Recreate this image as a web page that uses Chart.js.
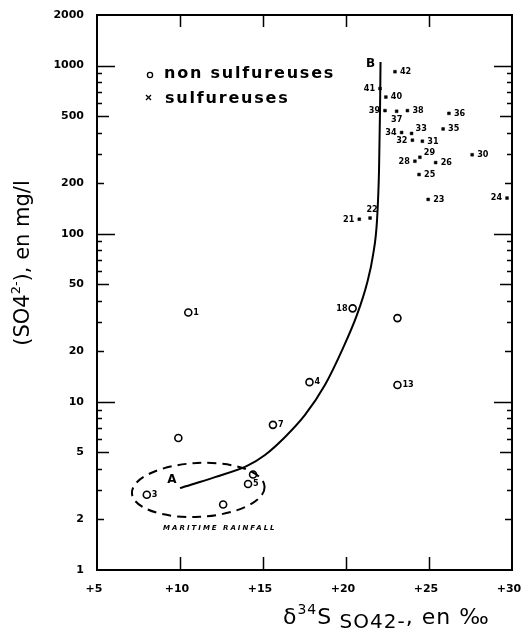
<!DOCTYPE html>
<html><head><meta charset="utf-8">
<script src="https://cdn.jsdelivr.net/npm/chart.js@4.4.1/dist/chart.umd.min.js"></script>
<style>html,body{margin:0;padding:0;background:#fff}#wrap{width:522px;height:630px;position:relative}canvas{display:block}</style>
</head><body><div id="wrap"><canvas id="c" width="522" height="630"></canvas></div>
<script>
// ---- data ----
const nonSulfX = [10.5, 20.4, 23.1, 23.1, 17.8, 15.6, 9.9, 8.0, 12.6, 14.1, 14.4];
const nonSulfY = [34, 36, 31.5, 12.6, 13.1, 7.3, 6.1, 2.8, 2.45, 3.25, 3.7];
const nonSulfLabels = ['1', '18', '', '13', '4', '7', '', '3', '', '5', ''];

const sulfX = [20.8, 21.45, 24.95, 29.7, 24.4, 25.4, 24.15, 24.45, 27.6, 24.6, 24.0, 23.95, 23.35, 25.85, 26.2, 23.05, 23.7, 22.35, 22.4, 22.05, 22.95];
const sulfY = [122, 124, 160, 163, 225, 265, 270, 285, 295, 355, 360, 395, 400, 420, 520, 535, 540, 540, 650, 730, 920];
const sulfLabels = ['21', '22', '23', '24', '25', '26', '28', '29', '30', '31', '32', '33', '34', '35', '36', '37', '38', '39', '40', '41', '42'];

const curveX = [10.0, 12.11, 14.04, 15.12, 16.33, 17.53, 18.73, 19.82, 20.66, 21.27, 21.63, 21.87, 21.99, 22.05, 22.08];
const curveY = [3.07, 3.57, 4.16, 4.83, 6.18, 8.36, 12.6, 20.9, 32.9, 51, 74.8, 121, 240, 545, 1050];

const xTickValues = [5, 10, 15, 20, 25, 30];
const yTickValues = [1, 2, 5, 10, 20, 50, 100, 200, 500, 1000, 2000];
const yLongTicks = [10, 100, 1000];
const yMidTicks = [5, 50, 500];
const yShortTicks = [2, 20, 200];
const yMinorTicks = [3, 4, 6, 7, 8, 9, 30, 40, 60, 70, 80, 90, 300, 400, 600, 700, 800, 900];
const xInnerTicks = [10, 15, 20, 25];

// ---- label placement (style, kept apart from data) ----
const nonSulfLabelSide = ['r', 'l', 'r', 'r', 'r', 'r', 'r', 'r', 'r', 'r', 'r'];
const sulfLabelSide = ['l', 't', 'r', 'l', 'r', 'r', 'l', 'tr', 'r', 'r', 'l', 'tr', 'l', 'r', 'r', 'b', 'r', 'l', 'r', 'l', 'r'];
const rainfallZone = { xMin: 7.1, xMax: 15.1, yMin: 2.07, yMax: 4.33, textX: 12.4, textY: 1.78 };

const pts = (xs, ys) => xs.map((x, i) => ({ x: x, y: ys[i] }));

const FONT = "'DejaVu Sans', sans-serif";
const FONTC = "'DejaVu Sans Condensed', 'DejaVu Sans', sans-serif";

const decor = {
  id: 'decor',
  afterDatasetsDraw(chart) {
    const { ctx, chartArea: a, scales: { x, y } } = chart;
    ctx.save();
    ctx.strokeStyle = '#000';
    ctx.fillStyle = '#000';
    // frame
    ctx.lineWidth = 2;
    ctx.strokeRect(a.left, a.top, a.right - a.left, a.bottom - a.top);
    // inward ticks on left and right
    ctx.lineWidth = 1.5;
    const tickSets = [[yLongTicks, 18], [yMidTicks, 12], [yShortTicks, 7], [yMinorTicks, 5]];
    tickSets.forEach(([vals, len]) => {
      vals.forEach(v => {
        const py = Math.round(y.getPixelForValue(v)) + 0.5;
        ctx.beginPath();
        ctx.moveTo(a.left, py); ctx.lineTo(a.left + len, py);
        ctx.moveTo(a.right, py); ctx.lineTo(a.right - len, py);
        ctx.stroke();
      });
    });
    // inward ticks on top and bottom
    xInnerTicks.forEach(v => {
      const px = Math.round(x.getPixelForValue(v)) + 0.5;
      ctx.beginPath();
      ctx.moveTo(px, a.top); ctx.lineTo(px, a.top + 12);
      ctx.moveTo(px, a.bottom); ctx.lineTo(px, a.bottom - 13);
      ctx.stroke();
    });

    // maritime rainfall dashed ellipse
    const ex1 = x.getPixelForValue(rainfallZone.xMin), ex2 = x.getPixelForValue(rainfallZone.xMax);
    const ey1 = y.getPixelForValue(rainfallZone.yMax), ey2 = y.getPixelForValue(rainfallZone.yMin);
    ctx.lineWidth = 2;
    ctx.setLineDash([9, 6]);
    ctx.beginPath();
    ctx.ellipse((ex1 + ex2) / 2, (ey1 + ey2) / 2, (ex2 - ex1) / 2, (ey2 - ey1) / 2, -0.05, 0, Math.PI * 2);
    ctx.stroke();
    ctx.setLineDash([]);
    ctx.font = 'bold italic 7px ' + FONT;
    ctx.textAlign = 'center';
    ctx.textBaseline = 'middle';
    try { ctx.letterSpacing = '2px'; } catch (e) {}
    ctx.fillText('MARITIME RAINFALL', x.getPixelForValue(rainfallZone.textX), y.getPixelForValue(rainfallZone.textY));
    try { ctx.letterSpacing = '0px'; } catch (e) {}

    // point labels
    ctx.font = 'bold 9px ' + FONTC;
    const drawLabels = (dsIndex, labels, sides) => {
      const meta = chart.getDatasetMeta(dsIndex);
      meta.data.forEach((el, i) => {
        const t = labels[i];
        if (!t) return;
        const s = sides[i];
        let tx = el.x, ty = el.y;
        if (s === 'r') { ctx.textAlign = 'left'; ctx.textBaseline = 'middle'; tx += 5; }
        else if (s === 'l') { ctx.textAlign = 'right'; ctx.textBaseline = 'middle'; tx -= 5; }
        else if (s === 't') { ctx.textAlign = 'center'; ctx.textBaseline = 'bottom'; ty -= 4; tx += 2; }
        else if (s === 'b') { ctx.textAlign = 'center'; ctx.textBaseline = 'top'; ty += 4; }
        else if (s === 'tr') { ctx.textAlign = 'left'; ctx.textBaseline = 'middle'; tx += 4; ty -= 5; }
        ctx.fillText(t, tx, ty);
      });
    };
    drawLabels(1, nonSulfLabels, nonSulfLabelSide);
    drawLabels(2, sulfLabels, sulfLabelSide);

    // A and B at ends of the curve
    const cm = chart.getDatasetMeta(0).data;
    ctx.font = 'bold 12px ' + FONT;
    ctx.textAlign = 'center'; ctx.textBaseline = 'middle';
    ctx.fillText('A', cm[0].x - 8, cm[0].y - 8);
    ctx.fillText('B', cm[cm.length - 1].x - 10, cm[cm.length - 1].y + 2);

    // legend
    ctx.lineWidth = 1.3;
    ctx.beginPath(); ctx.arc(150, 75, 2.6, 0, Math.PI * 2); ctx.stroke();
    ctx.beginPath(); ctx.moveTo(146, 95); ctx.lineTo(151, 100); ctx.moveTo(151, 95); ctx.lineTo(146, 100); ctx.stroke();
    ctx.font = 'bold 16px ' + FONT;
    ctx.textAlign = 'left'; ctx.textBaseline = 'alphabetic';
    try { ctx.letterSpacing = '1.8px'; } catch (e) {}
    ctx.fillText('non sulfureuses', 164, 78);
    ctx.fillText('sulfureuses', 165, 103);
    try { ctx.letterSpacing = '0px'; } catch (e) {}

    // y-axis title
    ctx.save();
    ctx.translate(29, 263);
    ctx.rotate(-Math.PI / 2);
    const yParts = [['(SO4', 21, 0], ['2-', 13, -9], ['), en mg/l', 21, 0]];
    let tot = 0;
    yParts.forEach(p => { ctx.font = p[1] + 'px ' + FONT; tot += ctx.measureText(p[0]).width; });
    let cx = -tot / 2;
    ctx.textAlign = 'left'; ctx.textBaseline = 'alphabetic';
    yParts.forEach(p => { ctx.font = p[1] + 'px ' + FONT; ctx.fillText(p[0], cx, p[2]); cx += ctx.measureText(p[0]).width; });
    ctx.restore();

    // x-axis title
    const xParts = [['δ', 22, 624], ['34', 14, 614], ['S', 22, 624], [' SO42-', 20, 628], [', en ‰', 22, 624]];
    let xx = 283;
    try { ctx.letterSpacing = '1px'; } catch (e) {}
    xParts.forEach(p => { ctx.font = p[1] + 'px ' + FONT; ctx.fillText(p[0], xx, p[2]); xx += ctx.measureText(p[0]).width; });
    try { ctx.letterSpacing = '0px'; } catch (e) {}
    ctx.restore();
  }
};

new Chart(document.getElementById('c'), {
  type: 'scatter',
  data: {
    datasets: [
      { label: 'courbe', data: pts(curveX, curveY), showLine: true, borderColor: '#000', borderWidth: 2, pointRadius: 0, cubicInterpolationMode: 'monotone', fill: false },
      { label: 'non sulfureuses', data: pts(nonSulfX, nonSulfY), pointStyle: 'circle', pointRadius: 3.5, borderColor: '#000', borderWidth: 1.6, backgroundColor: 'rgba(255,255,255,0)' },
      { label: 'sulfureuses', data: pts(sulfX, sulfY), pointStyle: 'rect', pointRadius: 2, borderColor: '#000', borderWidth: 0.5, backgroundColor: '#000' }
    ]
  },
  options: {
    responsive: false,
    animation: false,
    devicePixelRatio: 1,
    layout: { padding: { top: 15, right: 10, left: 0, bottom: 0 } },
    plugins: { legend: { display: false }, tooltip: { enabled: false } },
    scales: {
      x: {
        type: 'linear', min: 5, max: 30,
        grid: { display: false }, border: { display: false },
        afterBuildTicks: s => { s.ticks = xTickValues.map(v => ({ value: v })); },
        ticks: { callback: v => '+' + v, font: { family: FONT, weight: 'bold', size: 11 }, color: '#000', padding: 5, labelOffset: -3, maxRotation: 0, autoSkip: false },
        afterFit: s => { s.height = 60; s.paddingLeft = 0; s.paddingRight = 0; }
      },
      y: {
        type: 'logarithmic', min: 1, max: 2000,
        grid: { display: false }, border: { display: false },
        afterBuildTicks: s => { s.ticks = yTickValues.map(v => ({ value: v })); },
        ticks: { callback: v => String(v), font: { family: FONT, weight: 'bold', size: 11 }, color: '#000', padding: 5, autoSkip: false },
        afterFit: s => { s.width = 97; s.paddingTop = 0; s.paddingBottom = 0; }
      }
    }
  },
  plugins: [decor]
});
</script></body></html>
